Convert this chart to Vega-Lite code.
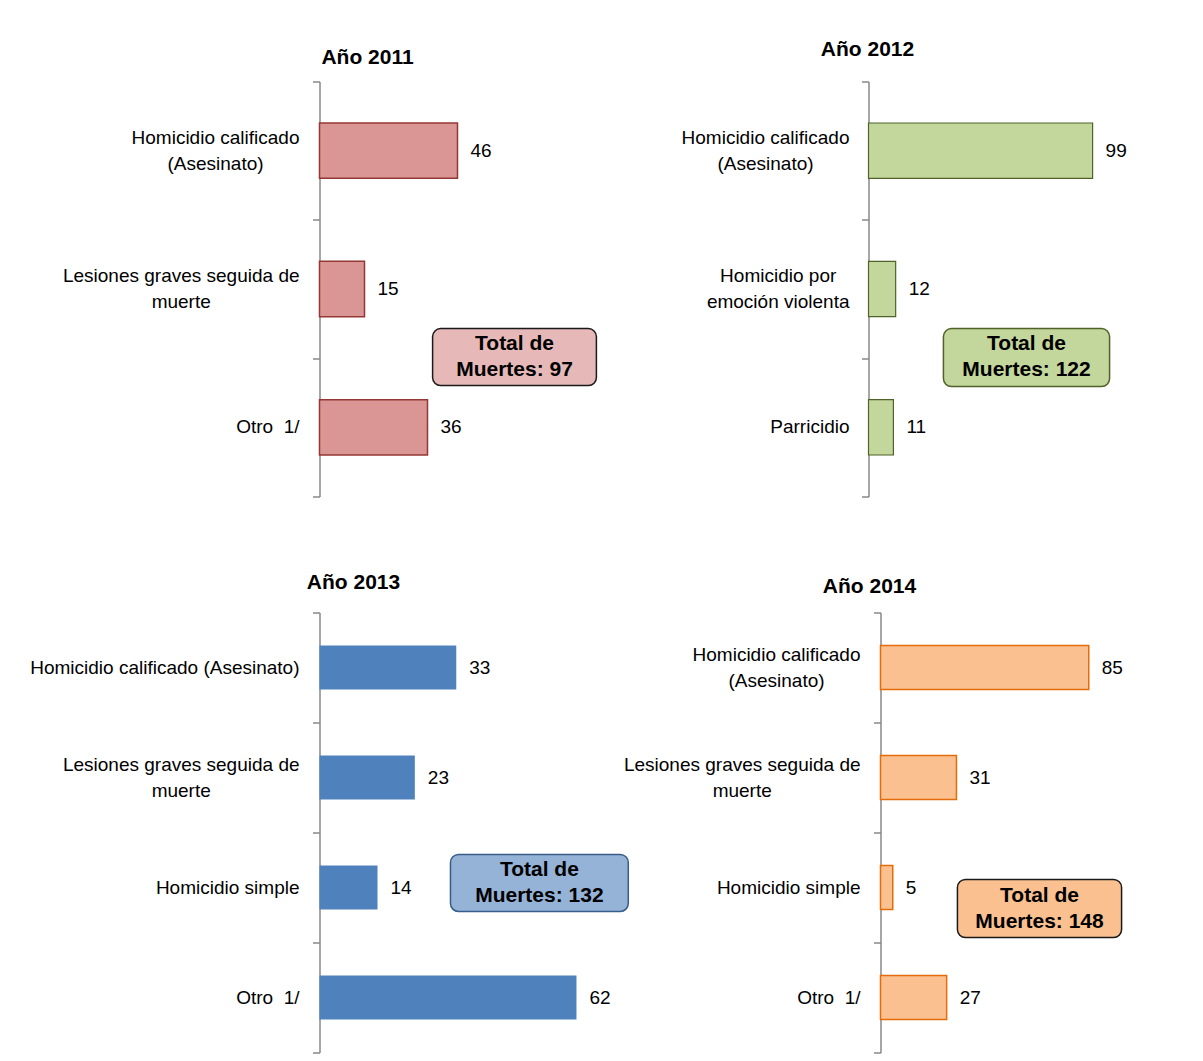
{
  "$schema": "https://vega.github.io/schema/vega-lite/v6.json",
  "background": "white",
  "padding": {"left": 29.5, "top": 38.5, "right": 5, "bottom": 5},
  "config": {
    "font": "Liberation Sans, Arial, sans-serif",
    "view": {"stroke": null},
    "axis": {
      "title": null, "grid": false, "tickBand": "extent", "labels": false,
      "domainColor": "#898989", "domainWidth": 1.5,
      "tickColor": "#898989", "tickWidth": 1.5, "tickSize": 7
    },
    "title": {"font": "Liberation Sans, Arial, sans-serif", "fontSize": 21, "fontWeight": "bold", "color": "black", "anchor": "middle", "frame": "group", "baseline": "alphabetic"},
    "text": {"font": "Liberation Sans, Arial, sans-serif", "fontSize": 19, "color": "black"}
  },
  "datasets": {
    "d2011": [
      {"delito": "Homicidio calificado\n(Asesinato)", "muertes": 46},
      {"delito": "Lesiones graves seguida de\nmuerte", "muertes": 15},
      {"delito": "Otro  1/", "muertes": 36}
    ],
    "t2011": [{"fila": "Lesiones graves seguida de\nmuerte", "x1": 37.7, "x2": 92.3, "etiqueta": "Total de\nMuertes: 97"}],
    "d2012": [
      {"delito": "Homicidio calificado\n(Asesinato)", "muertes": 99},
      {"delito": "Homicidio por\nemoción violenta", "muertes": 12},
      {"delito": "Parricidio", "muertes": 11}
    ],
    "t2012": [{"fila": "Homicidio por\nemoción violenta", "x1": 33.1, "x2": 106.5, "etiqueta": "Total de\nMuertes: 122"}],
    "d2013": [
      {"delito": "Homicidio calificado (Asesinato)", "muertes": 33},
      {"delito": "Lesiones graves seguida de\nmuerte", "muertes": 23},
      {"delito": "Homicidio simple", "muertes": 14},
      {"delito": "Otro  1/", "muertes": 62}
    ],
    "t2013": [{"fila": "Homicidio simple", "x1": 31.6, "x2": 74.5, "etiqueta": "Total de\nMuertes: 132"}],
    "d2014": [
      {"delito": "Homicidio calificado\n(Asesinato)", "muertes": 85},
      {"delito": "Lesiones graves seguida de\nmuerte", "muertes": 31},
      {"delito": "Homicidio simple", "muertes": 5},
      {"delito": "Otro  1/", "muertes": 27}
    ],
    "t2014": [{"fila": "Homicidio simple", "x1": 31.4, "x2": 98.4, "etiqueta": "Total de\nMuertes: 148"}]
  },
  "spacing": 74,
  "vconcat": [
    {
      "hconcat": [
        {
          "width": 285, "height": 415,
          "title": {"text": "Año 2011", "dx": -94.5, "offset": 12.5},
          "data": {"name": "d2011"},
          "layer": [
            {
              "mark": {"type": "bar", "fill": "#D99694", "stroke": "#953735", "strokeWidth": 1.5, "height": {"band": 0.4}},
              "encoding": {
                "y": {"field": "delito", "type": "nominal", "sort": null, "scale": {"paddingInner": 0, "paddingOuter": 0}},
                "x": {"field": "muertes", "type": "quantitative", "scale": {"domain": [0, 95], "nice": false}, "axis": null}
              }
            },
            {
              "mark": {"type": "text", "align": "left", "baseline": "middle", "dx": 13},
              "encoding": {
                "y": {"field": "delito", "type": "nominal", "sort": null},
                "x": {"field": "muertes", "type": "quantitative"},
                "text": {"field": "muertes", "type": "quantitative"}
              }
            },
            {
              "transform": [{"filter": "indexof(datum.delito, '\\n(Asesinato)') >= 0"}],
              "mark": {"type": "text", "align": "center", "baseline": "middle", "dx": -104, "dy": -13, "lineBreak": "\n", "lineHeight": 26},
              "encoding": {
                "y": {"field": "delito", "type": "nominal", "sort": null},
                "x": {"datum": 0, "type": "quantitative"},
                "text": {"field": "delito", "type": "nominal"}
              }
            },
            {
              "transform": [{"filter": "indexof(datum.delito, 'Lesiones') >= 0"}],
              "mark": {"type": "text", "align": "center", "baseline": "middle", "dx": -138.3, "dy": -13, "lineBreak": "\n", "lineHeight": 26},
              "encoding": {
                "y": {"field": "delito", "type": "nominal", "sort": null},
                "x": {"datum": 0, "type": "quantitative"},
                "text": {"field": "delito", "type": "nominal"}
              }
            },
            {
              "transform": [{"filter": "indexof(datum.delito, '\\n') < 0"}, {"calculate": "replace(datum.delito, '  ', '\u00a0 ')", "as": "etq"}],
              "mark": {"type": "text", "align": "right", "baseline": "middle", "dx": -20},
              "encoding": {
                "y": {"field": "delito", "type": "nominal", "sort": null},
                "x": {"datum": 0, "type": "quantitative"},
                "text": {"field": "etq", "type": "nominal"}
              }
            },
            {
              "data": {"name": "t2011"},
              "mark": {"type": "rect", "fill": "#E6B9B8", "stroke": "#1a1a1a", "strokeWidth": 1.5, "cornerRadius": 8},
              "encoding": {
                "y": {"field": "fila", "type": "nominal", "sort": null, "bandPosition": 0.786},
                "y2": {"field": "fila", "bandPosition": 1.198},
                "x": {"field": "x1", "type": "quantitative"},
                "x2": {"field": "x2"}
              }
            },
            {
              "data": {"name": "t2011"},
              "transform": [{"calculate": "(datum.x1 + datum.x2) / 2", "as": "xc"}],
              "mark": {"type": "text", "lineBreak": "\n", "fontWeight": "bold", "fontSize": 21, "lineHeight": 26, "baseline": "middle", "dy": -13, "align": "center"},
              "encoding": {
                "y": {"field": "fila", "type": "nominal", "sort": null, "bandPosition": 0.992},
                "x": {"field": "xc", "type": "quantitative"},
                "text": {"field": "etiqueta", "type": "nominal"}
              }
            }
          ]
        },
        {
          "width": 249, "height": 415,
          "title": {"text": "Año 2012", "dx": -125.5, "offset": 20.5},
          "data": {"name": "d2012"},
          "layer": [
            {
              "mark": {"type": "bar", "fill": "#C3D69B", "stroke": "#4F6228", "strokeWidth": 1.2, "height": {"band": 0.4}},
              "encoding": {
                "y": {"field": "delito", "type": "nominal", "sort": null, "scale": {"paddingInner": 0, "paddingOuter": 0}},
                "x": {"field": "muertes", "type": "quantitative", "scale": {"domain": [0, 110], "nice": false}, "axis": null}
              }
            },
            {
              "mark": {"type": "text", "align": "left", "baseline": "middle", "dx": 13},
              "encoding": {
                "y": {"field": "delito", "type": "nominal", "sort": null},
                "x": {"field": "muertes", "type": "quantitative"},
                "text": {"field": "muertes", "type": "quantitative"}
              }
            },
            {
              "transform": [{"filter": "indexof(datum.delito, '\\n(Asesinato)') >= 0"}],
              "mark": {"type": "text", "align": "center", "baseline": "middle", "dx": -103, "dy": -13, "lineBreak": "\n", "lineHeight": 26},
              "encoding": {
                "y": {"field": "delito", "type": "nominal", "sort": null},
                "x": {"datum": 0, "type": "quantitative"},
                "text": {"field": "delito", "type": "nominal"}
              }
            },
            {
              "transform": [{"filter": "indexof(datum.delito, 'emoci') >= 0"}],
              "mark": {"type": "text", "align": "center", "baseline": "middle", "dx": -90.3, "dy": -13, "lineBreak": "\n", "lineHeight": 26},
              "encoding": {
                "y": {"field": "delito", "type": "nominal", "sort": null},
                "x": {"datum": 0, "type": "quantitative"},
                "text": {"field": "delito", "type": "nominal"}
              }
            },
            {
              "transform": [{"filter": "indexof(datum.delito, '\\n') < 0"}],
              "mark": {"type": "text", "align": "right", "baseline": "middle", "dx": -19},
              "encoding": {
                "y": {"field": "delito", "type": "nominal", "sort": null},
                "x": {"datum": 0, "type": "quantitative"},
                "text": {"field": "delito", "type": "nominal"}
              }
            },
            {
              "data": {"name": "t2012"},
              "mark": {"type": "rect", "fill": "#C3D69B", "stroke": "#4F6228", "strokeWidth": 1.5, "cornerRadius": 8},
              "encoding": {
                "y": {"field": "fila", "type": "nominal", "sort": null, "bandPosition": 0.786},
                "y2": {"field": "fila", "bandPosition": 1.205},
                "x": {"field": "x1", "type": "quantitative"},
                "x2": {"field": "x2"}
              }
            },
            {
              "data": {"name": "t2012"},
              "transform": [{"calculate": "(datum.x1 + datum.x2) / 2", "as": "xc"}],
              "mark": {"type": "text", "lineBreak": "\n", "fontWeight": "bold", "fontSize": 21, "lineHeight": 26, "baseline": "middle", "dy": -13, "align": "center"},
              "encoding": {
                "y": {"field": "fila", "type": "nominal", "sort": null, "bandPosition": 0.995},
                "x": {"field": "xc", "type": "quantitative"},
                "text": {"field": "etiqueta", "type": "nominal"}
              }
            }
          ]
        }
      ],
      "spacing": 264,
      "bounds": "flush"
    },
    {
      "hconcat": [
        {
          "width": 315, "height": 440,
          "title": {"text": "Año 2013", "dx": -123.5, "offset": 19},
          "data": {"name": "d2013"},
          "layer": [
            {
              "mark": {"type": "bar", "fill": "#4F81BD", "height": {"band": 0.4}},
              "encoding": {
                "y": {"field": "delito", "type": "nominal", "sort": null, "scale": {"paddingInner": 0, "paddingOuter": 0}},
                "x": {"field": "muertes", "type": "quantitative", "scale": {"domain": [0, 76], "nice": false}, "axis": null}
              }
            },
            {
              "mark": {"type": "text", "align": "left", "baseline": "middle", "dx": 13},
              "encoding": {
                "y": {"field": "delito", "type": "nominal", "sort": null},
                "x": {"field": "muertes", "type": "quantitative"},
                "text": {"field": "muertes", "type": "quantitative"}
              }
            },
            {
              "transform": [{"filter": "indexof(datum.delito, 'Lesiones') >= 0"}],
              "mark": {"type": "text", "align": "center", "baseline": "middle", "dx": -138.3, "dy": -13, "lineBreak": "\n", "lineHeight": 26},
              "encoding": {
                "y": {"field": "delito", "type": "nominal", "sort": null},
                "x": {"datum": 0, "type": "quantitative"},
                "text": {"field": "delito", "type": "nominal"}
              }
            },
            {
              "transform": [{"filter": "indexof(datum.delito, '\\n') < 0"}, {"calculate": "replace(datum.delito, '  ', '\u00a0 ')", "as": "etq"}],
              "mark": {"type": "text", "align": "right", "baseline": "middle", "dx": -20},
              "encoding": {
                "y": {"field": "delito", "type": "nominal", "sort": null},
                "x": {"datum": 0, "type": "quantitative"},
                "text": {"field": "etq", "type": "nominal"}
              }
            },
            {
              "data": {"name": "t2013"},
              "mark": {"type": "rect", "fill": "#95B3D7", "stroke": "#385D8A", "strokeWidth": 1.5, "cornerRadius": 8},
              "encoding": {
                "y": {"field": "fila", "type": "nominal", "sort": null, "bandPosition": 0.2},
                "y2": {"field": "fila", "bandPosition": 0.718},
                "x": {"field": "x1", "type": "quantitative"},
                "x2": {"field": "x2"}
              }
            },
            {
              "data": {"name": "t2013"},
              "transform": [{"calculate": "(datum.x1 + datum.x2) / 2", "as": "xc"}],
              "mark": {"type": "text", "lineBreak": "\n", "fontWeight": "bold", "fontSize": 21, "lineHeight": 26, "baseline": "middle", "dy": -13, "align": "center"},
              "encoding": {
                "y": {"field": "fila", "type": "nominal", "sort": null, "bandPosition": 0.459},
                "x": {"field": "xc", "type": "quantitative"},
                "text": {"field": "etiqueta", "type": "nominal"}
              }
            }
          ]
        },
        {
          "width": 245, "height": 440,
          "title": {"text": "Año 2014", "dx": -133.5, "offset": 15},
          "data": {"name": "d2014"},
          "layer": [
            {
              "mark": {"type": "bar", "fill": "#FAC090", "stroke": "#E46C0A", "strokeWidth": 1.5, "height": {"band": 0.4}},
              "encoding": {
                "y": {"field": "delito", "type": "nominal", "sort": null, "scale": {"paddingInner": 0, "paddingOuter": 0}},
                "x": {"field": "muertes", "type": "quantitative", "scale": {"domain": [0, 100], "nice": false}, "axis": null}
              }
            },
            {
              "mark": {"type": "text", "align": "left", "baseline": "middle", "dx": 13},
              "encoding": {
                "y": {"field": "delito", "type": "nominal", "sort": null},
                "x": {"field": "muertes", "type": "quantitative"},
                "text": {"field": "muertes", "type": "quantitative"}
              }
            },
            {
              "transform": [{"filter": "indexof(datum.delito, '\\n(Asesinato)') >= 0"}],
              "mark": {"type": "text", "align": "center", "baseline": "middle", "dx": -104, "dy": -13, "lineBreak": "\n", "lineHeight": 26},
              "encoding": {
                "y": {"field": "delito", "type": "nominal", "sort": null},
                "x": {"datum": 0, "type": "quantitative"},
                "text": {"field": "delito", "type": "nominal"}
              }
            },
            {
              "transform": [{"filter": "indexof(datum.delito, 'Lesiones') >= 0"}],
              "mark": {"type": "text", "align": "center", "baseline": "middle", "dx": -138.3, "dy": -13, "lineBreak": "\n", "lineHeight": 26},
              "encoding": {
                "y": {"field": "delito", "type": "nominal", "sort": null},
                "x": {"datum": 0, "type": "quantitative"},
                "text": {"field": "delito", "type": "nominal"}
              }
            },
            {
              "transform": [{"filter": "indexof(datum.delito, '\\n') < 0"}, {"calculate": "replace(datum.delito, '  ', '\u00a0 ')", "as": "etq"}],
              "mark": {"type": "text", "align": "right", "baseline": "middle", "dx": -20},
              "encoding": {
                "y": {"field": "delito", "type": "nominal", "sort": null},
                "x": {"datum": 0, "type": "quantitative"},
                "text": {"field": "etq", "type": "nominal"}
              }
            },
            {
              "data": {"name": "t2014"},
              "mark": {"type": "rect", "fill": "#FAC090", "stroke": "#1a1a1a", "strokeWidth": 1.5, "cornerRadius": 8},
              "encoding": {
                "y": {"field": "fila", "type": "nominal", "sort": null, "bandPosition": 0.427},
                "y2": {"field": "fila", "bandPosition": 0.955},
                "x": {"field": "x1", "type": "quantitative"},
                "x2": {"field": "x2"}
              }
            },
            {
              "data": {"name": "t2014"},
              "transform": [{"calculate": "(datum.x1 + datum.x2) / 2", "as": "xc"}],
              "mark": {"type": "text", "lineBreak": "\n", "fontWeight": "bold", "fontSize": 21, "lineHeight": 26, "baseline": "middle", "dy": -13, "align": "center"},
              "encoding": {
                "y": {"field": "fila", "type": "nominal", "sort": null, "bandPosition": 0.691},
                "x": {"field": "xc", "type": "quantitative"},
                "text": {"field": "etiqueta", "type": "nominal"}
              }
            }
          ]
        }
      ],
      "spacing": 246,
      "bounds": "flush"
    }
  ]
}
